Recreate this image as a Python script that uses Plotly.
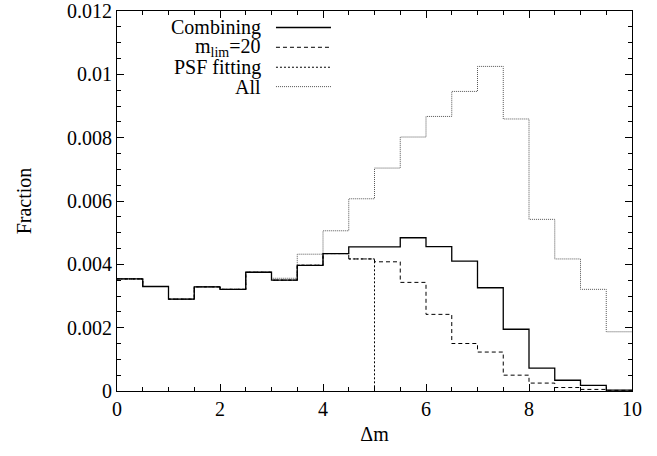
import plotly.graph_objects as go

# bin edges (width 0.5 from 0 to 10)
bin_edges = [i * 0.5 for i in range(21)]

combining = [3.54e-3, 3.30e-3, 2.90e-3, 3.29e-3, 3.21e-3, 3.75e-3, 3.50e-3, 3.97e-3,
             4.34e-3, 4.55e-3, 4.55e-3, 4.84e-3, 4.56e-3, 4.10e-3, 3.26e-3, 1.95e-3,
             0.72e-3, 0.34e-3, 0.18e-3, 0.03e-3]
mlim20 = [3.54e-3, 3.30e-3, 2.90e-3, 3.29e-3, 3.21e-3, 3.75e-3, 3.50e-3, 3.97e-3,
          4.34e-3, 4.17e-3, 4.08e-3, 3.43e-3, 2.42e-3, 1.50e-3, 1.23e-3, 0.50e-3,
          0.25e-3, 0.11e-3, 0.05e-3, 0.02e-3]
# PSF fitting only covers 0 <= dm < 5
psf_fitting = [3.54e-3, 3.30e-3, 2.90e-3, 3.29e-3, 3.21e-3, 3.75e-3, 3.50e-3, 3.97e-3,
               4.34e-3, 4.17e-3]
all_vals = [3.54e-3, 3.30e-3, 2.90e-3, 3.29e-3, 3.21e-3, 3.75e-3, 3.56e-3, 4.32e-3,
            5.06e-3, 6.07e-3, 7.04e-3, 8.02e-3, 8.67e-3, 9.46e-3, 10.25e-3, 8.59e-3,
            5.42e-3, 4.17e-3, 3.21e-3, 1.87e-3]

x_ticks = [0, 2, 4, 6, 8, 10]
y_ticks = [0, 0.002, 0.004, 0.006, 0.008, 0.01, 0.012]
y_ticktext = ["0", "0.002", "0.004", "0.006", "0.008", "0.01", "0.012"]

legend_labels = ["Combining", "m<sub>lim</sub>=20", "PSF fitting", "All"]

FONT = "Liberation Serif"

def steps(vals, drop=False):
    xs = bin_edges[:len(vals) + 1]
    ys = list(vals) + [0 if drop else vals[-1]]
    return xs, ys

series = [
    (all_vals, False, dict(color="#555555", width=1, dash="1px,1px")),
    (psf_fitting, True, dict(color="black", width=1, dash="2px,2px")),
    (mlim20, False, dict(color="black", width=1, dash="4px,3px")),
    (combining, False, dict(color="black", width=1.3)),
]

fig = go.Figure()
for vals, drop, ln in series:
    xs, ys = steps(vals, drop)
    fig.add_trace(go.Scatter(x=xs, y=ys, mode="lines", line=dict(shape="hv", **ln),
                             showlegend=False, hoverinfo="skip"))

# custom legend (text right aligned, sample to the right)
legend_styles = [
    dict(color="black", width=1.3),
    dict(color="black", width=1, dash="4px,3px"),
    dict(color="black", width=1, dash="2px,2px"),
    dict(color="#555555", width=1, dash="1px,1px"),
]
legend_y = [0.9566, 0.9045, 0.852, 0.801]
for lab, st, yy in zip(legend_labels, legend_styles, legend_y):
    fig.add_annotation(x=0.2835, y=yy, xref="paper", yref="paper", text=lab,
                       showarrow=False, xanchor="right", yanchor="middle",
                       font=dict(family=FONT, size=20, color="black"))
    fig.add_shape(type="line", xref="paper", yref="paper", x0=0.3087, x1=0.4155,
                  y0=yy, y1=yy, line=st)

axis_common = dict(showgrid=False, zeroline=False, showline=True, linecolor="black",
                   linewidth=1, mirror="allticks", ticks="inside", ticklen=7,
                   tickcolor="black", automargin=False,
                   tickfont=dict(family=FONT, size=20, color="black"))

fig.update_xaxes(range=[0, 10], tickvals=x_ticks, ticktext=[str(v) for v in x_ticks],
                 minor=dict(dtick=0.5, ticks="inside", ticklen=4, tickcolor="black"),
                 title=dict(text="Δm", font=dict(family=FONT, size=20, color="black"), standoff=7),
                 **axis_common)
fig.update_yaxes(range=[0, 0.012], tickvals=y_ticks, ticktext=y_ticktext,
                 minor=dict(dtick=0.0005, ticks="inside", ticklen=4, tickcolor="black"),
                 title=dict(text="Fraction", font=dict(family=FONT, size=20, color="black"), standoff=30),
                 **axis_common)

fig.update_layout(width=657, height=456, margin=dict(l=117, r=25, t=11, b=65),
                  plot_bgcolor="white", paper_bgcolor="white",
                  font=dict(family=FONT, size=20, color="black"))

fig.write_html("out.html")
